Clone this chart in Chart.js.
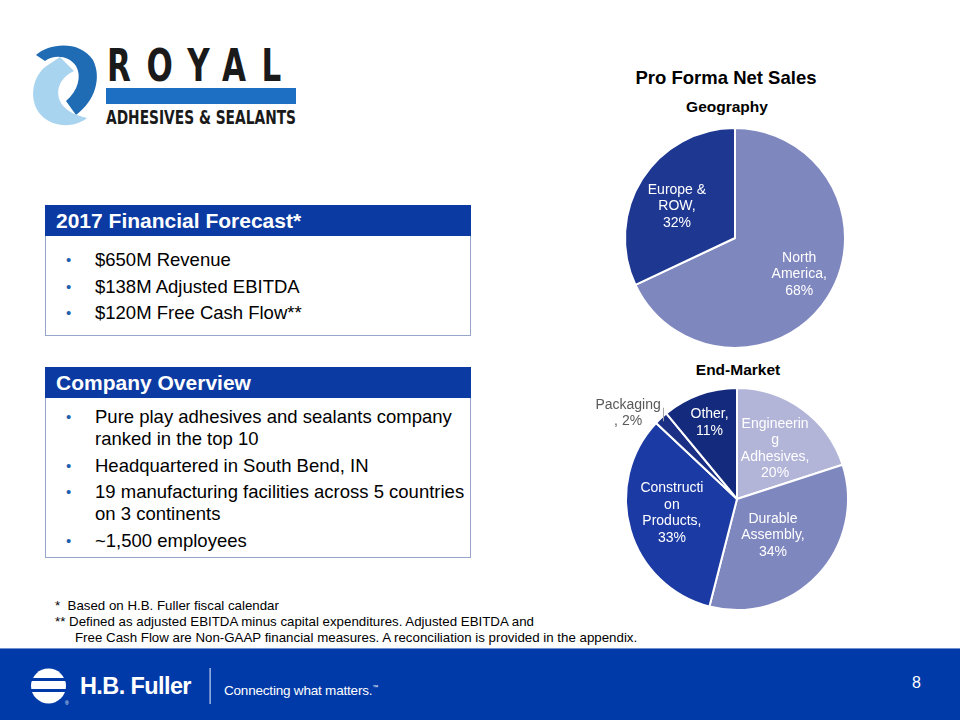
<!DOCTYPE html>
<html>
<head>
<meta charset="utf-8">
<script src="https://cdn.jsdelivr.net/npm/chart.js"></script>
<style>
  body { margin: 0; }
  #slide { position: relative; width: 960px; height: 720px; overflow: hidden; background: #fff;
           font-family: "Liberation Sans", Arial, sans-serif; color: #000; }
  .abs { position: absolute; }
  .box { position: absolute; left: 45px; width: 426px; border: 1.5px solid #97a6c8; box-sizing: border-box; }
  .boxHead { position: absolute; left: 45px; width: 426px; height: 31px; background: #0b3aa2; color: #fff;
             font-weight: bold; font-size: 21px; line-height: 31px; padding-left: 11px; box-sizing: border-box; }
  ul.bul { position: absolute; left: 95px; margin: 0; padding: 0; list-style: none; font-size: 18.5px; white-space: nowrap; }
  ul.bul li { position: relative; line-height: 22px; margin-top: 4.6px; }
  ul.bul li:first-child { margin-top: 0; }
  ul.bul li::before { content: "\2022"; position: absolute; left: -29px; top: 0; color: #1f5fb0; font-size: 15px; }
  .ttl { position: absolute; text-align: center; font-weight: bold; }
  .note { position: absolute; left: 55px; font-size: 13.3px; line-height: 16px; white-space: nowrap; color: #000; }
  #footer { position: absolute; left: 0; top: 648px; width: 960px; height: 72px; background: #003aa8;
            border-top: 1px solid #6f8fd0; box-sizing: border-box; }
  canvas { position: absolute; }
</style>
</head>
<body>
<div id="slide">

  <!-- Royal logo -->
  <svg class="abs" style="left:0;top:0" width="320" height="140">
    <path d="M36,55 C49,43 80,40 93,60 C102,78 95,101 76,115 L66,101 C78,91 82,76 76,66 C69,56 55,54 45,61 Z" fill="#1f6cb4"/>
    <path d="M60,57 L74,71 C61,77 55,89 60,101 C64,110 74,115 87,118 C75,128 53,128 41,115 C29,102 31,79 45,67 Z" fill="#a9d4f0"/>
    <text x="107" y="81" font-family="Liberation Sans Narrow, DejaVu Sans Condensed, Liberation Sans" font-weight="bold"
          font-size="44" textLength="190" lengthAdjust="spacingAndGlyphs" fill="#1a1a1a" letter-spacing="20">ROYAL</text>
    <rect x="106" y="88" width="190" height="16" fill="#1c6fc3"/>
    <text x="106" y="124" font-family="Liberation Sans Narrow, DejaVu Sans Condensed, Liberation Sans" font-weight="bold"
          font-size="20" textLength="190" lengthAdjust="spacingAndGlyphs" fill="#1a1a1a">ADHESIVES &amp; SEALANTS</text>
  </svg>

  <!-- Financial forecast box -->
  <div class="box" style="top:205px;height:131px"></div>
  <div class="boxHead" style="top:205px">2017 Financial Forecast*</div>
  <ul class="bul" style="top:249px">
    <li>$650M Revenue</li>
    <li>$138M Adjusted EBITDA</li>
    <li>$120M Free Cash Flow**</li>
  </ul>

  <!-- Company overview box -->
  <div class="box" style="top:367px;height:191px"></div>
  <div class="boxHead" style="top:367px">Company Overview</div>
  <ul class="bul" style="top:406.3px">
    <li>Pure play adhesives and sealants company<br>ranked in the top 10</li>
    <li>Headquartered in South Bend, IN</li>
    <li>19 manufacturing facilities across 5 countries<br>on 3 continents</li>
    <li>~1,500 employees</li>
  </ul>

  <!-- footnotes -->
  <div class="note" style="top:598px">*&nbsp; Based on H.B. Fuller fiscal calendar</div>
  <div class="note" style="top:614px">** Defined as adjusted EBITDA minus capital expenditures. Adjusted EBITDA and</div>
  <div class="note" style="top:630px;left:75px">Free Cash Flow are Non-GAAP financial measures. A reconciliation is provided in the appendix.</div>

  <!-- chart titles -->
  <div class="ttl" style="left:606px;width:240px;top:68px;font-size:18.5px;line-height:20px">Pro Forma Net Sales</div>
  <div class="ttl" style="left:627px;width:200px;top:97px;font-size:15.5px;line-height:20px">Geography</div>
  <div class="ttl" style="left:638px;width:200px;top:360px;font-size:15.5px;line-height:20px">End-Market</div>

  <canvas id="geoPie" width="270" height="240" style="left:600px;top:118px"></canvas>
  <canvas id="endPie" width="320" height="240" style="left:560px;top:380px"></canvas>

  <!-- footer -->
  <div id="footer">
    <svg class="abs" style="left:0;top:0" width="230" height="72">
      <defs><clipPath id="hbc"><circle cx="48.5" cy="37" r="17.5"/></clipPath></defs>
      <g clip-path="url(#hbc)" fill="#fff">
        <rect x="30" y="19" width="38" height="10"/>
        <rect x="30" y="32" width="38" height="8"/>
        <rect x="30" y="43" width="38" height="14"/>
      </g>
      <text x="65" y="56" font-size="5" fill="#fff" font-family="Liberation Sans">®</text>
      <text x="80" y="45" font-size="23.5" font-weight="bold" fill="#fff" font-family="Liberation Sans" letter-spacing="-0.6">H.B. Fuller</text>
      <rect x="209.5" y="19" width="1.2" height="36" fill="#c9d4ee"/>
    </svg>
    <div class="abs" style="left:224px;top:30px;font-size:13.5px;line-height:16px;color:#fff;letter-spacing:-0.2px">Connecting what matters.<sup style="font-size:6px">™</sup></div>
    <div class="abs" style="left:912px;top:24px;font-size:16px;line-height:20px;color:#fff">8</div>
  </div>
</div>

<script>
// Pro Forma Net Sales - geography split
const geoCategories = ['North America', 'Europe & ROW'];
const geoValues = [68, 32];
const geoColors = ['#7f87bf', '#1e3791'];
const geoLabelLines = [['North', 'America,', '{p}%'], ['Europe &', 'ROW,', '{p}%']];

// Pro Forma Net Sales - end market split
const endCategories = ['Engineering Adhesives', 'Durable Assembly', 'Construction Products', 'Packaging', 'Other'];
const endValues = [20, 34, 33, 2, 11];
const endColors = ['#b2b5d8', '#7f87bf', '#1c3aa3', '#1b2f85', '#142a7c'];
const endLabelLines = [
  ['Engineerin', 'g', 'Adhesives,', '{p}%'],
  ['Durable', 'Assembly,', '{p}%'],
  ['Constructi', 'on', 'Products,', '{p}%'],
  ['Packaging', ', {p}%'],
  ['Other,', '{p}%']
];

// draws "name, x%" text on (or beside) each slice
const sliceLabels = {
  id: 'sliceLabels',
  afterDatasetsDraw(chart, args, opts) {
    const ctx = chart.ctx;
    const meta = chart.getDatasetMeta(0);
    const values = chart.data.datasets[0].data;
    ctx.save();
    ctx.font = opts.font;
    ctx.textAlign = 'center';
    ctx.textBaseline = 'middle';
    meta.data.forEach(function (arc, i) {
      const p = arc.getProps(['x', 'y', 'startAngle', 'endAngle', 'outerRadius'], true);
      const place = opts.placement[i];
      const mid = (p.startAngle + p.endAngle) / 2 + (place.a || 0) * Math.PI / 180;
      const r = p.outerRadius * place.r;
      const cx = p.x + Math.cos(mid) * r;
      const cy = p.y + Math.sin(mid) * r;
      const lines = opts.lines[i].map(s => s.replace('{p}', values[i]));
      const top = cy - (lines.length - 1) * opts.lineHeight / 2;
      ctx.fillStyle = place.color || '#ffffff';
      lines.forEach((s, k) => ctx.fillText(s, cx, top + k * opts.lineHeight));
      if (place.leader) {
        const w = Math.max.apply(null, lines.map(s => ctx.measureText(s).width));
        const lx = Math.round(cx + w / 2 + 2) + 0.5;
        ctx.strokeStyle = '#a6a6a6';
        ctx.lineWidth = 1;
        ctx.beginPath();
        ctx.moveTo(lx, top + 3);
        ctx.lineTo(lx, top + opts.lineHeight);
        ctx.stroke();
      }
    });
    ctx.restore();
  }
};

function makePie(id, labels, values, colors, padding, lines, placement) {
  return new Chart(document.getElementById(id), {
    type: 'pie',
    data: {
      labels: labels,
      datasets: [{
        data: values,
        backgroundColor: colors,
        borderColor: '#ffffff',
        borderWidth: 2
      }]
    },
    options: {
      responsive: false,
      animation: false,
      devicePixelRatio: 1,
      layout: { padding: padding },
      plugins: {
        legend: { display: false },
        tooltip: { enabled: false },
        sliceLabels: {
          font: '14px "Liberation Sans", Arial, sans-serif',
          lineHeight: 16.5,
          lines: lines,
          placement: placement
        }
      }
    },
    plugins: [sliceLabels]
  });
}

makePie('geoPie', geoCategories, geoValues, geoColors,
  { left: 24, right: 24, top: 9, bottom: 9 },
  geoLabelLines,
  [{ r: 0.67, a: -3 }, { r: 0.6, a: -4 }]);

makePie('endPie', endCategories, endValues, endColors,
  { left: 65, right: 31, top: 7, bottom: 9 },
  endLabelLines,
  [{ r: 0.57, a: 1 }, { r: 0.46, a: 2 }, { r: 0.6, a: 4 },
   { r: 1.25, a: -8.5, color: '#595959', leader: true }, { r: 0.73 }]);
</script>
</body>
</html>
